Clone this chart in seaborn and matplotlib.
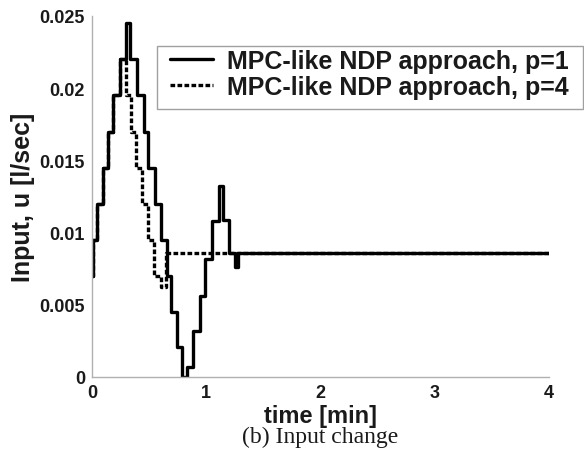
import numpy as np
import pandas as pd
import matplotlib
matplotlib.use("Agg")
import matplotlib.pyplot as plt
from matplotlib.patches import Rectangle
import seaborn as sns

# ---- data (step breakpoints) ----
t_p1 = [0.0, 0.005, 0.045, 0.095, 0.143, 0.187, 0.246, 0.296, 0.330, 0.397,
        0.459, 0.494, 0.553, 0.605, 0.655, 0.690, 0.743, 0.792, 0.830, 0.883,
        0.941, 0.991, 1.048, 1.112, 1.145, 1.200, 1.250, 1.280, 4.0]
u_p1 = [0.0070, 0.0095, 0.0120, 0.0145, 0.0170, 0.0195, 0.0220, 0.0245, 0.0220, 0.0195,
        0.0170, 0.0145, 0.0120, 0.0095, 0.0070, 0.0045, 0.0021, 0.0000, 0.0007, 0.0032,
        0.0056, 0.0082, 0.0108, 0.0132, 0.0109, 0.0086, 0.0076, 0.0086, 0.0086]

t_p4 = [0.0, 0.005, 0.045, 0.095, 0.143, 0.187, 0.246, 0.294, 0.338, 0.386,
        0.434, 0.490, 0.544, 0.600, 0.645, 4.0]
u_p4 = [0.0070, 0.0095, 0.0120, 0.0145, 0.0170, 0.0195, 0.0220, 0.0195, 0.0170, 0.0145,
        0.0120, 0.0095, 0.0070, 0.0062, 0.0086, 0.0086]

labels = ["MPC-like NDP approach, p=1", "MPC-like NDP approach, p=4"]
x_ticks = [0, 1, 2, 3, 4]
x_ticklabels = ["0", "1", "2", "3", "4"]
y_ticks = [0, 0.005, 0.01, 0.015, 0.02, 0.025]
y_ticklabels = ["0", "0.005", "0.01", "0.015", "0.02", "0.025"]

df1 = pd.DataFrame({"t": t_p1, "u": u_p1})
df4 = pd.DataFrame({"t": t_p4, "u": u_p4})

sns.set_theme(style="white")
plt.rcParams["font.family"] = ["Liberation Sans", "DejaVu Sans"]

W, H = 584, 452
fig = plt.figure(figsize=(W / 100, H / 100), dpi=100)
ax = fig.add_axes([92 / W, 1 - 378 / H, (549 - 92) / W, (378 - 17) / H])

sns.lineplot(data=df1, x="t", y="u", ax=ax, color="black", lw=2.4,
             drawstyle="steps-post", label=labels[0], estimator=None, sort=False)
sns.lineplot(data=df4, x="t", y="u", ax=ax, color="black", lw=2.4,
             drawstyle="steps-post", label=labels[1], estimator=None, sort=False,
             linestyle=(0, (1.4, 0.7)))

ax.set_xlim(0, 4)
ax.set_ylim(0, 0.025)
ax.set_xticks(x_ticks)
ax.set_xticklabels(x_ticklabels)
ax.set_yticks(y_ticks)
ax.set_yticklabels(y_ticklabels)

for s in ["top", "right"]:
    ax.spines[s].set_visible(False)
for s in ["left", "bottom"]:
    ax.spines[s].set_color("#b0b0b0")
    ax.spines[s].set_linewidth(1.0)

ax.tick_params(axis="both", direction="in", length=3, width=0.8, color="#909090",
               labelsize=13, labelcolor="#1a1a1a", pad=5)
for lab in ax.get_xticklabels() + ax.get_yticklabels():
    lab.set_fontweight("bold")

ax.set_xlabel("time [min]", fontsize=17, fontweight="bold", color="#1a1a1a", labelpad=2)
ax.set_ylabel("Input, u [l/sec]", fontsize=18, fontweight="bold", color="#1a1a1a", labelpad=3)

leg = ax.legend(loc="upper left", bbox_to_anchor=(170 / W, 1 - 50 / H),
                bbox_transform=fig.transFigure, frameon=False,
                prop={"family": "Liberation Sans", "weight": "bold", "size": 18},
                handlelength=1.72, handletextpad=0.55, borderpad=0, labelspacing=0.08,
                borderaxespad=0)
for txt in leg.get_texts():
    txt.set_color("#1a1a1a")

fig.patches.append(Rectangle((157 / W, 1 - 110 / H), 426 / W, 63 / H,
                             transform=fig.transFigure, fill=False,
                             edgecolor="#a0a0a0", linewidth=1.0, zorder=5))

fig.text(320 / W, 1 - 437 / H, "(b) Input change", ha="center", va="center",
         fontsize=17, family=["Liberation Serif", "DejaVu Serif"], color="#1a1a1a")

fig.savefig("out.png", dpi=100)
